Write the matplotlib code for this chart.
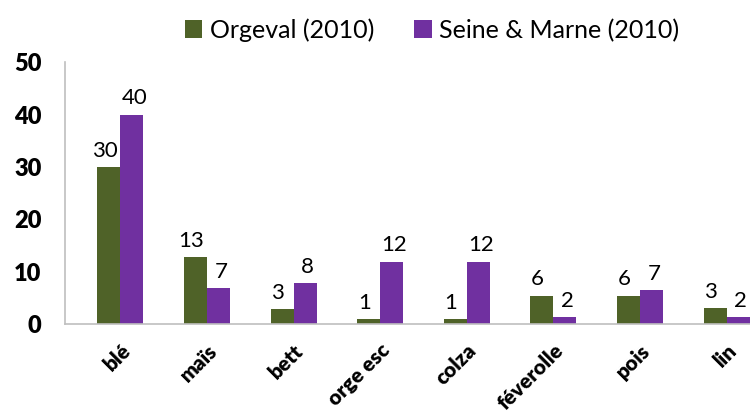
import matplotlib
matplotlib.use("Agg")
import matplotlib.pyplot as plt
import numpy as np

categories = ["blé", "maïs", "bett", "orge esc", "colza", "féverolle", "pois", "lin"]
orgeval = [30, 12.8, 2.9, 0.9, 0.9, 5.4, 5.4, 3.1]
seine_marne = [40, 6.9, 7.8, 11.9, 11.9, 1.3, 6.5, 1.3]
orgeval_labels = ["30", "13", "3", "1", "1", "6", "6", "3"]
seine_marne_labels = ["40", "7", "8", "12", "12", "2", "7", "2"]
series_names = ["Orgeval (2010)", "Seine & Marne (2010)"]
yticks = [0, 10, 20, 30, 40, 50]

green = "#4F6228"
purple = "#7030A0"
plt.rcParams['font.family'] = ['Lato', 'DejaVu Sans']

fig = plt.figure(figsize=(7.5, 4.19), dpi=100)
ax = fig.add_axes([0.0867, 0.2267, 0.9133, 0.6243])

x = np.arange(len(categories))
w = 0.265
b1 = ax.bar(x - w/2, orgeval, w, color=green, label=series_names[0])
b2 = ax.bar(x + w/2, seine_marne, w, color=purple, label=series_names[1])

for rect, lab in zip(b1, orgeval_labels):
    ax.text(rect.get_x() + rect.get_width()/2 - 0.05, rect.get_height() + 1.2, lab,
            ha='center', va='bottom', fontsize=16)
for rect, lab in zip(b2, seine_marne_labels):
    ax.text(rect.get_x() + rect.get_width()/2 + 0.03, rect.get_height() + 1.2, lab,
            ha='center', va='bottom', fontsize=16)

ax.set_ylim(0, 50)
ax.set_xlim(-0.64, 7.27)
ax.set_yticks(yticks)
ax.set_yticklabels([str(t) for t in yticks], fontsize=17, fontweight='heavy')
ax.set_xticks(x)
ax.set_xticklabels(categories, rotation=45, ha='right', rotation_mode='anchor',
                   fontsize=15, fontweight='heavy')
ax.tick_params(axis='y', length=0, pad=17)
ax.tick_params(axis='x', length=0, pad=12)

for s in ['top', 'right']:
    ax.spines[s].set_visible(False)
for s in ['left', 'bottom']:
    ax.spines[s].set_color('#BFBFBF')
    ax.spines[s].set_linewidth(1.2)

fig.legend(handles=[b1, b2], labels=series_names, loc='center', bbox_to_anchor=(0.576, 0.928),
           ncol=2, frameon=False, fontsize=18, handlelength=0.7, handleheight=0.7,
           handletextpad=0.3, columnspacing=1.6)

fig.savefig("out.png", dpi=100)
